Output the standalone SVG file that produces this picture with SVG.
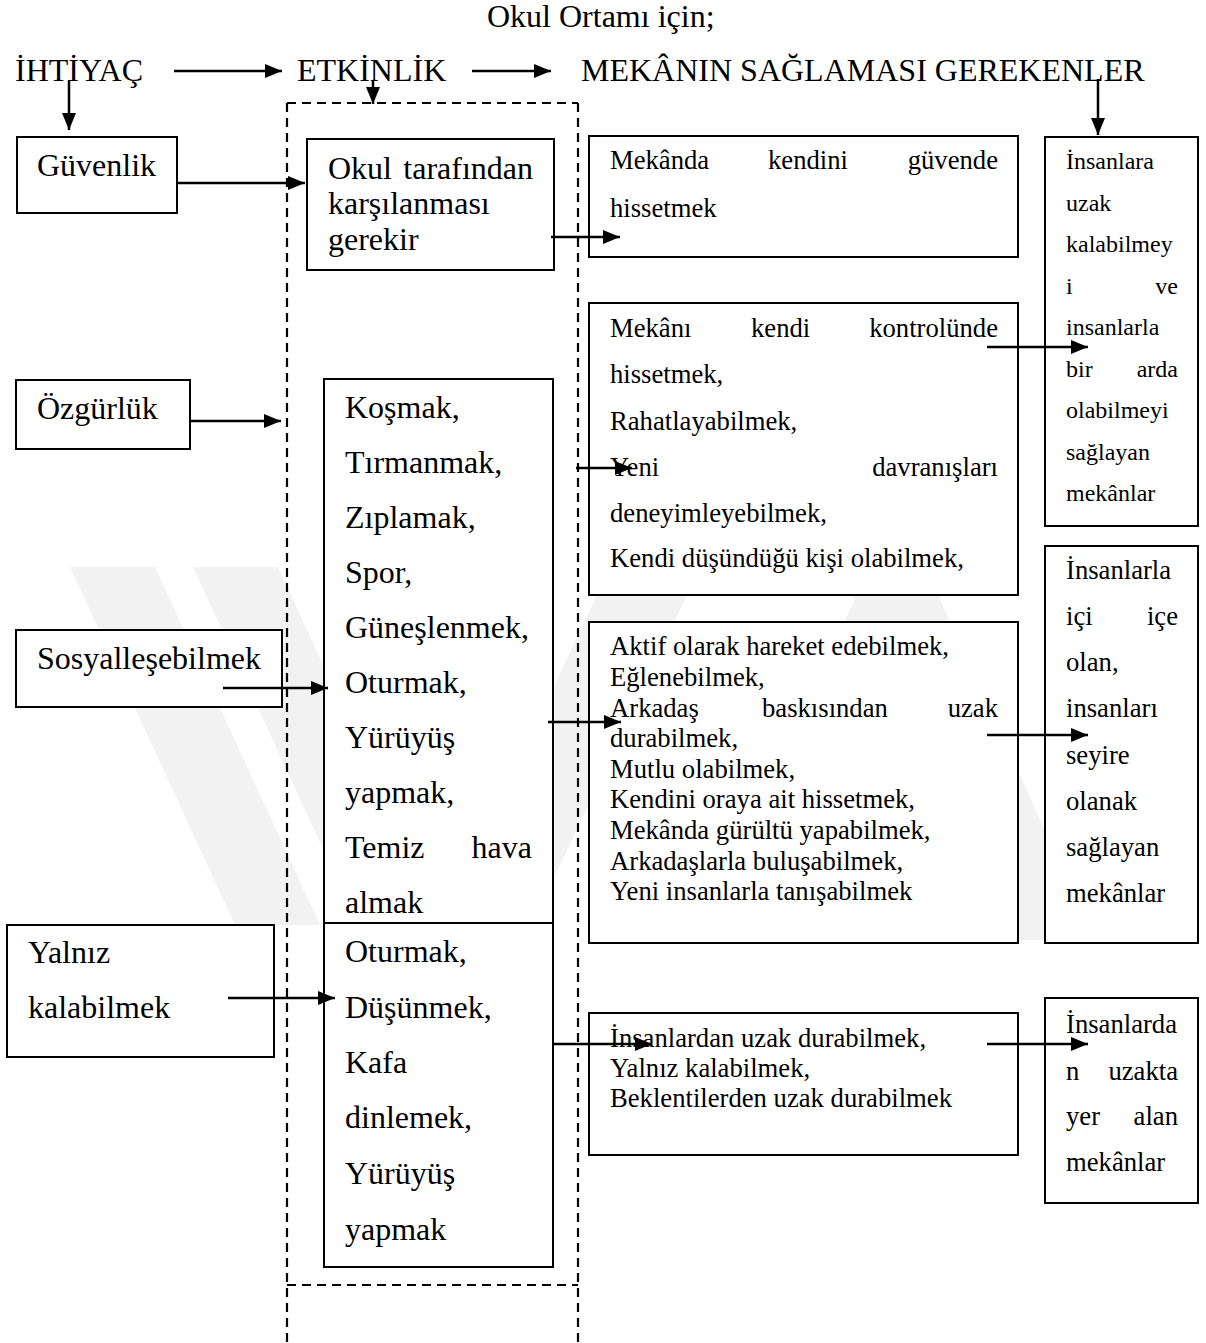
<svg xmlns="http://www.w3.org/2000/svg" width="1206" height="1343" viewBox="0 0 1206 1343">
<style>
text{font-family:"Liberation Serif","Times New Roman",serif;fill:#000}
.h{font-size:32px}
.m{font-size:26.67px}
.s{font-size:24px}
.box{fill:#fff;stroke:#000;stroke-width:2}
.dash{fill:none;stroke:#000;stroke-width:2.2;stroke-dasharray:9 6}
.conn line{stroke:#000;stroke-width:2.5;marker-end:url(#ah)}
.wm{fill:#f2f2f2}
.e{text-anchor:end}
</style>
<defs>
<marker id="ah" markerUnits="userSpaceOnUse" markerWidth="18" markerHeight="15" refX="17" refY="7" orient="auto">
<path d="M0,0 L17,7 L0,14 z" fill="#000"/>
</marker>
</defs>
<rect width="1206" height="1343" fill="#fff"/>
<g id="watermark">
<polygon class="wm" points="70,567 155,567 320,925 235,925"/>
<polygon class="wm" points="193,567 278,567 443,925 358,925"/>
<polygon class="wm" points="610,567 700,567 532,925 442,925"/>
<polygon class="wm" points="870,567 955,567 787,925 702,925"/>
<polygon class="wm" points="840,567 925,567 1095,940 1010,940"/>
</g>
<text class="h" x="487" y="27">Okul Ortamı için;</text>
<g id="headers">
<text class="h" x="15" y="81">İHTİYAÇ</text>
<text class="h" x="297" y="81">ETKİNLİK</text>
<text class="h" x="581" y="81">MEKÂNIN SAĞLAMASI GEREKENLER</text>
</g>
<g id="etkinlik-frame">
<line class="dash" x1="287" y1="103" x2="578" y2="103"/>
<line class="dash" x1="287" y1="103" x2="287" y2="1343"/>
<line class="dash" x1="578" y1="103" x2="578" y2="1343"/>
<line class="dash" x1="287" y1="1285" x2="578" y2="1285"/>
</g>
<g id="guvenlik">
<rect class="box" x="17" y="137" width="160" height="76"/>
<text class="h" x="37" y="176">Güvenlik</text>
</g>
<g id="ozgurluk">
<rect class="box" x="16" y="380" width="174" height="69"/>
<text class="h" x="37" y="419">Özgürlük</text>
</g>
<g id="sosyal">
<rect class="box" x="16" y="630" width="266" height="77"/>
<text class="h" x="37" y="669">Sosyalleşebilmek</text>
</g>
<g id="yalniz">
<rect class="box" x="7" y="925" width="267" height="132"/>
<text class="h" x="28" y="963">Yalnız</text>
<text class="h" x="28" y="1018">kalabilmek</text>
</g>
<g id="okul">
<rect class="box" x="307" y="139" width="247" height="131"/>
<text class="h" x="328" y="179">Okul</text>
<text class="h e" x="533" y="179">tarafından</text>
<text class="h" x="328" y="214">karşılanması</text>
<text class="h" x="328" y="250">gerekir</text>
</g>
<g id="aktivite1">
<rect class="box" x="324" y="379" width="229" height="544"/>
<text class="h" x="345" y="418">Koşmak,</text>
<text class="h" x="345" y="473">Tırmanmak,</text>
<text class="h" x="345" y="528">Zıplamak,</text>
<text class="h" x="345" y="583">Spor,</text>
<text class="h" x="345" y="638">Güneşlenmek,</text>
<text class="h" x="345" y="693">Oturmak,</text>
<text class="h" x="345" y="748">Yürüyüş</text>
<text class="h" x="345" y="803">yapmak,</text>
<text class="h" x="345" y="858">Temiz</text>
<text class="h e" x="532" y="858">hava</text>
<text class="h" x="345" y="913">almak</text>
</g>
<g id="aktivite2">
<rect class="box" x="324" y="923" width="229" height="344"/>
<text class="h" x="345" y="962">Oturmak,</text>
<text class="h" x="345" y="1018">Düşünmek,</text>
<text class="h" x="345" y="1073">Kafa</text>
<text class="h" x="345" y="1128">dinlemek,</text>
<text class="h" x="345" y="1184">Yürüyüş</text>
<text class="h" x="345" y="1240">yapmak</text>
</g>
<g id="mekanda">
<rect class="box" x="589" y="136" width="429" height="121"/>
<text class="m" x="610" y="169">Mekânda</text>
<text class="m" x="768" y="169">kendini</text>
<text class="m e" x="998" y="169">güvende</text>
<text class="m" x="610" y="217">hissetmek</text>
</g>
<g id="mekani">
<rect class="box" x="589" y="303" width="429" height="292"/>
<text class="m" x="610" y="337">Mekânı</text>
<text class="m" x="751" y="337">kendi</text>
<text class="m e" x="998" y="337">kontrolünde</text>
<text class="m" x="610" y="383">hissetmek,</text>
<text class="m" x="610" y="430">Rahatlayabilmek,</text>
<text class="m" x="610" y="476">Yeni</text>
<text class="m e" x="998" y="476">davranışları</text>
<text class="m" x="610" y="522">deneyimleyebilmek,</text>
<text class="m" x="610" y="567">Kendi düşündüğü kişi olabilmek,</text>
</g>
<g id="aktif">
<rect class="box" x="589" y="622" width="429" height="321"/>
<text class="m" x="610" y="655">Aktif olarak hareket edebilmek,</text>
<text class="m" x="610" y="686">Eğlenebilmek,</text>
<text class="m" x="610" y="717">Arkadaş</text>
<text class="m" x="762" y="717">baskısından</text>
<text class="m e" x="998" y="717">uzak</text>
<text class="m" x="610" y="747">durabilmek,</text>
<text class="m" x="610" y="778">Mutlu olabilmek,</text>
<text class="m" x="610" y="808">Kendini oraya ait hissetmek,</text>
<text class="m" x="610" y="839">Mekânda gürültü yapabilmek,</text>
<text class="m" x="610" y="870">Arkadaşlarla buluşabilmek,</text>
<text class="m" x="610" y="900">Yeni insanlarla tanışabilmek</text>
</g>
<g id="insanlardan">
<rect class="box" x="589" y="1013" width="429" height="142"/>
<text class="m" x="610" y="1047">İnsanlardan uzak durabilmek,</text>
<text class="m" x="610" y="1077">Yalnız kalabilmek,</text>
<text class="m" x="610" y="1107">Beklentilerden uzak durabilmek</text>
</g>
<g id="sonuc1">
<rect class="box" x="1045" y="137" width="153" height="389"/>
<text class="s" x="1066" y="169">İnsanlara</text>
<text class="s" x="1066" y="211">uzak</text>
<text class="s" x="1066" y="252">kalabilmey</text>
<text class="s" x="1066" y="294">i</text>
<text class="s e" x="1178" y="294">ve</text>
<text class="s" x="1066" y="335">insanlarla</text>
<text class="s" x="1066" y="377">bir</text>
<text class="s e" x="1178" y="377">arda</text>
<text class="s" x="1066" y="418">olabilmeyi</text>
<text class="s" x="1066" y="460">sağlayan</text>
<text class="s" x="1066" y="501">mekânlar</text>
</g>
<g id="sonuc2">
<rect class="box" x="1045" y="546" width="153" height="397"/>
<text class="m" x="1066" y="579">İnsanlarla</text>
<text class="m" x="1066" y="625">içi</text>
<text class="m e" x="1178" y="625">içe</text>
<text class="m" x="1066" y="671">olan,</text>
<text class="m" x="1066" y="717">insanları</text>
<text class="m" x="1066" y="764">seyire</text>
<text class="m" x="1066" y="810">olanak</text>
<text class="m" x="1066" y="856">sağlayan</text>
<text class="m" x="1066" y="902">mekânlar</text>
</g>
<g id="sonuc3">
<rect class="box" x="1045" y="998" width="153" height="205"/>
<text class="m" x="1066" y="1033">İnsanlarda</text>
<text class="m" x="1066" y="1080">n</text>
<text class="m e" x="1178" y="1080">uzakta</text>
<text class="m" x="1066" y="1125">yer</text>
<text class="m e" x="1178" y="1125">alan</text>
<text class="m" x="1066" y="1171">mekânlar</text>
</g>
<g id="connectors" class="conn">
<line x1="174" y1="71" x2="282" y2="71"/>
<line x1="472" y1="71" x2="551" y2="71"/>
<line x1="69" y1="80" x2="69" y2="130"/>
<line x1="373" y1="80" x2="373" y2="104"/>
<line x1="1098" y1="79" x2="1098" y2="135"/>
<line x1="177" y1="183" x2="305" y2="183"/>
<line x1="551" y1="237" x2="620" y2="237"/>
<line x1="190" y1="421" x2="281" y2="421"/>
<line x1="987" y1="347" x2="1088" y2="347"/>
<line x1="576" y1="468" x2="632" y2="468"/>
<line x1="223" y1="688" x2="328" y2="688"/>
<line x1="548" y1="722" x2="621" y2="722"/>
<line x1="987" y1="735" x2="1088" y2="735"/>
<line x1="228" y1="998" x2="335" y2="998"/>
<line x1="553" y1="1044" x2="652" y2="1044"/>
<line x1="987" y1="1044" x2="1088" y2="1044"/>
</g>
</svg>
